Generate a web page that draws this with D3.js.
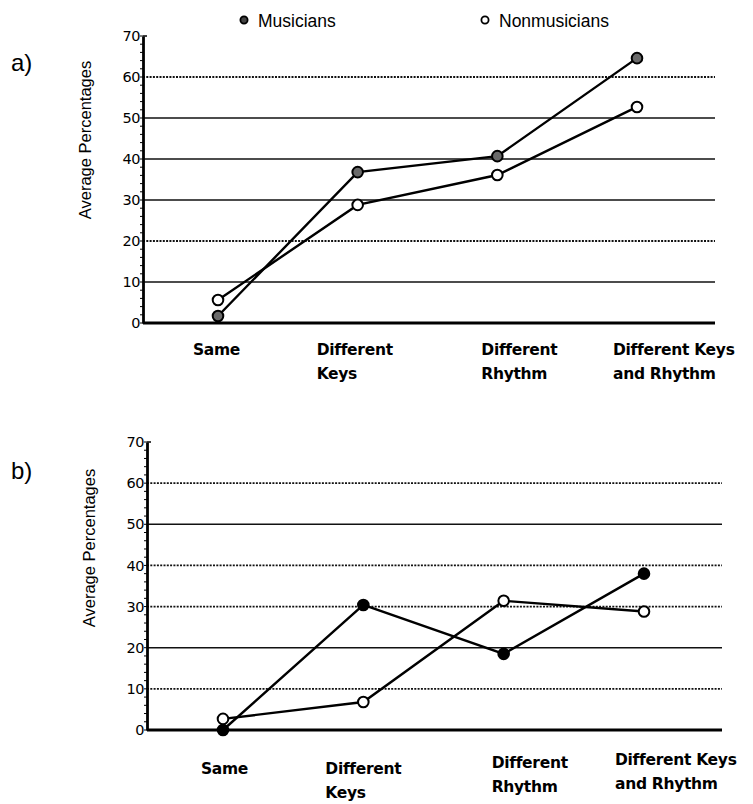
<!DOCTYPE html>
<html>
<head>
<meta charset="utf-8">
<script src="https://cdn.jsdelivr.net/npm/d3@7"></script>
<style>
  html, body { margin: 0; padding: 0; background: #fff; }
  svg { display: block; }
</style>
</head>
<body>
<svg id="chart" width="753" height="804"></svg>
<script>
// ---------------- data ----------------
const categories = ["Same", "Different Keys", "Different Rhythm", "Different Keys and Rhythm"];
const categoryLines = [["Same"], ["Different", "Keys"], ["Different", "Rhythm"], ["Different Keys", "and Rhythm"]];
const seriesNames = ["Musicians", "Nonmusicians"];
const musiciansA = [1.7, 36.8, 40.7, 64.6];
const nonmusiciansA = [5.6, 28.8, 36.1, 52.7];
const musiciansB = [0, 30.4, 18.5, 38.0];
const nonmusiciansB = [2.7, 6.8, 31.4, 28.8];
const yTicks = [0, 10, 20, 30, 40, 50, 60, 70];
const panelLabels = ["a)", "b)"];
const yAxisTitle = "Average Percentages";

// ---------------- layout ----------------
const svg = d3.select("#chart");
const panels = [
  { label: panelLabels[0], m: musiciansA, n: nonmusiciansA, axisX: 143, right: 715, y0: 323, y70: 36,
    xFirst: 218, xLast: 637, labelX: 11, labelY: 71, titleY: 140, mFill: "#6a6a6a",
    catDx: [-25, -41, -16, -24], catDy: [32, 32, 32, 32],
    gridStyle: { 10: "solid", 20: "dot", 30: "solid", 40: "solid", 50: "solid", 60: "dot" } },
  { label: panelLabels[1], m: musiciansB, n: nonmusiciansB, axisX: 147, right: 722, y0: 730, y70: 442,
    xFirst: 223, xLast: 644, labelX: 11, labelY: 479, titleY: 548, mFill: "#000",
    catDx: [-22, -38, -12, -29], catDy: [44, 44, 38, 35],
    gridStyle: { 10: "dot", 20: "solid", 30: "dot", 40: "dot", 50: "solid", 60: "dot" } }
];

panels.forEach(p => {
  const g = svg.append("g");
  const x = d3.scalePoint().domain(categories).range([p.xFirst, p.xLast]);
  const y = d3.scaleLinear().domain([0, 70]).range([p.y0, p.y70]);

  // gridlines
  yTicks.filter(t => t > 0 && t < 70).forEach(t => {
    const dotted = p.gridStyle[t] === "dot";
    g.append("line")
      .attr("x1", p.axisX).attr("x2", p.right)
      .attr("y1", y(t)).attr("y2", y(t))
      .attr("stroke", "#111")
      .attr("stroke-width", dotted ? 1.8 : 1.5)
      .attr("stroke-dasharray", dotted ? "2,1.3" : null);
  });

  // x baseline
  g.append("line")
    .attr("x1", p.axisX).attr("x2", p.right)
    .attr("y1", y(0)).attr("y2", y(0))
    .attr("stroke", "#000").attr("stroke-width", 2.8);

  // y axis
  const yAxis = d3.axisLeft(y).tickValues(yTicks).tickSize(0).tickPadding(3);
  const ya = g.append("g").attr("transform", `translate(${p.axisX},0)`).call(yAxis);
  ya.select(".domain").attr("stroke", "#000").attr("stroke-width", 2.8);
  ya.selectAll(".tick text")
    .attr("font-family", "'DejaVu Sans', sans-serif")
    .attr("font-size", 14.5)
    .attr("letter-spacing", -0.5)
    .attr("fill", "#000");
  // minor ticks
  const minor = d3.range(0, 71, 2);
  g.selectAll(null).data(minor).enter().append("line")
    .attr("x1", p.axisX - 3).attr("x2", p.axisX)
    .attr("y1", d => y(d)).attr("y2", d => y(d))
    .attr("stroke", "#000").attr("stroke-width", 1);
  g.append("line")
    .attr("x1", p.axisX).attr("x2", p.axisX + 4)
    .attr("y1", y(70)).attr("y2", y(70))
    .attr("stroke", "#000").attr("stroke-width", 1.5);

  // y title
  g.append("text")
    .attr("transform", `translate(${p.axisX - 52},${p.titleY}) rotate(-90)`)
    .attr("text-anchor", "middle")
    .attr("font-family", "'Liberation Sans', Arial, sans-serif")
    .attr("font-size", 16.5)
    .text(yAxisTitle);

  // panel label
  g.append("text")
    .attr("x", p.labelX).attr("y", p.labelY)
    .attr("font-family", "'Liberation Sans', Arial, sans-serif")
    .attr("font-size", 24)
    .text(p.label);

  // category labels
  categories.forEach((c, i) => {
    const t = g.append("text")
      .attr("font-family", "'DejaVu Sans', sans-serif")
      .attr("font-size", 15.5)
      .attr("font-weight", "bold")
      .attr("letter-spacing", -0.3)
      .attr("fill", "#000");
    categoryLines[i].forEach((ln, j) => {
      t.append("tspan")
        .attr("x", x(c) + p.catDx[i])
        .attr("y", y(0) + p.catDy[i] + j * 24)
        .text(ln);
    });
  });

  // lines
  const line = d3.line().x((d, i) => x(categories[i])).y(d => y(d));
  [p.n, p.m].forEach(vals => {
    g.append("path").datum(vals)
      .attr("d", line)
      .attr("fill", "none")
      .attr("stroke", "#000")
      .attr("stroke-width", 2.4);
  });

  // markers
  g.selectAll(null).data(p.n).enter().append("circle")
    .attr("cx", (d, i) => x(categories[i])).attr("cy", d => y(d))
    .attr("r", 5.3).attr("fill", "#fff").attr("stroke", "#000").attr("stroke-width", 2);
  g.selectAll(null).data(p.m).enter().append("circle")
    .attr("cx", (d, i) => x(categories[i])).attr("cy", d => y(d))
    .attr("r", 5.3).attr("fill", p.mFill).attr("stroke", "#000").attr("stroke-width", 2);
});

// legend
const legend = svg.append("g");
const legendItems = [
  { name: seriesNames[0], cx: 244, fill: "#444" },
  { name: seriesNames[1], cx: 485, fill: "#fff" }
];
legendItems.forEach(it => {
  legend.append("circle")
    .attr("cx", it.cx).attr("cy", 20).attr("r", 3.6)
    .attr("fill", it.fill).attr("stroke", "#000").attr("stroke-width", 1.8);
  legend.append("text")
    .attr("x", it.cx + 14).attr("y", 27)
    .attr("font-family", "'Liberation Sans', Arial, sans-serif")
    .attr("font-size", 17.5)
    .text(it.name);
});
</script>
</body>
</html>
